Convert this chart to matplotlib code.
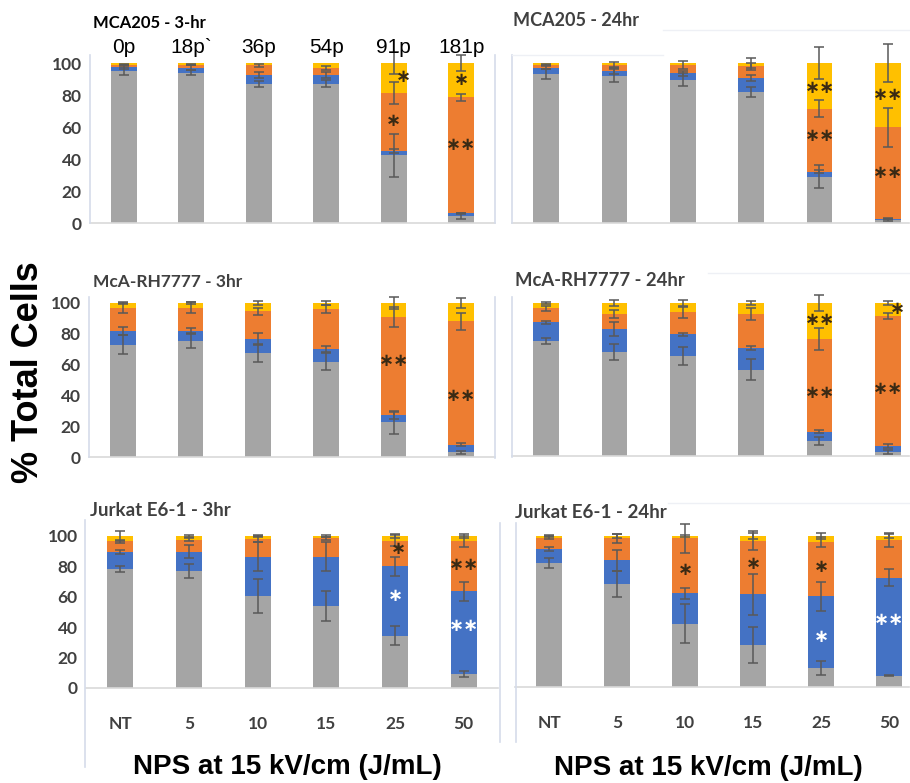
import matplotlib
matplotlib.use('agg')
import numpy as np
import matplotlib.pyplot as plt
from matplotlib.lines import Line2D

doses = ['NT', '5', '10', '15', '25', '50']
pulses = ['0p', '18p`', '36p', '54p', '91p', '181p']

# segment values per bar, stacked bottom -> top: gray, blue, orange, yellow
mca_3h_gray = [95, 94, 87, 87, 42.3, 4.5]
mca_3h_blue = [2.5, 3, 5.5, 5.5, 2.5, 1.5]
mca_3h_orange = [1.5, 2, 6, 4.5, 36.5, 72.5]
mca_3h_yellow = [1, 1, 1.5, 3, 18.7, 21.5]
mca_3h_err = [[2.5, 1.5, 2, 2.3, 13.6, 2], [1, 1.5, 1.8, 2, 1.2, 0.5],
              [0.5, 0.5, 1, 1.3, 6.7, 2], [0, 0, 0, 0, 7, 5]]
mca_3h_stars = [(4, 91, '∗', 'k', 0.15), (4, 64, '∗', 'k', 0), (5, 89.5, '∗', 'k', 0), (5, 49, '∗∗', 'k', 0)]

mca_24h_gray = [93, 92, 89.5, 82, 29, 1.7]
mca_24h_blue = [4, 3, 4, 8.5, 3, 1]
mca_24h_orange = [2, 4, 5.5, 7.5, 39.5, 57]
mca_24h_yellow = [1, 1, 1, 2, 28.5, 40.3]
mca_24h_err = [[3, 4, 4, 3.3, 7, 0.5], [1, 2, 1.5, 2, 1, 0.5],
               [0.5, 1.5, 2.5, 2.3, 5.3, 12], [0, 0, 0, 3, 10, 12]]
mca_24h_stars = [(4, 84.5, '∗∗', 'k', 0), (4, 54.6, '∗∗', 'k', 0), (5, 80, '∗∗', 'k', 0), (5, 31, '∗∗', 'k', 0)]

rh_3h_gray = [73, 75.5, 67.5, 62, 22.5, 3]
rh_3h_blue = [9, 6.5, 9, 8, 4.5, 5]
rh_3h_orange = [14.5, 15, 18, 26, 64, 80]
rh_3h_yellow = [3.5, 3, 5.5, 4, 9, 12]
rh_3h_err = [[6, 5, 6, 5.5, 7.5, 1], [2.5, 2, 4, 2, 2.5, 1],
             [3.3, 3.5, 2, 2.5, 6.5, 5.5], [0.5, 0.5, 1, 1, 4, 3]]
rh_3h_stars = [(4, 62.5, '∗∗', 'k', 0), (5, 39.4, '∗∗', 'k', 0)]

rh_24h_gray = [75, 68, 65.5, 56.5, 10, 2.5]
rh_24h_blue = [12.5, 15, 14, 14, 6, 4]
rh_24h_orange = [9, 10, 14.5, 22.5, 60.5, 85]
rh_24h_yellow = [3.5, 7, 6, 7, 23.5, 8.5]
rh_24h_err = [[2, 5.5, 6, 7, 2.5, 1.5], [1, 4.5, 1, 1.3, 0.8, 1.3],
              [1.5, 2.5, 3.5, 3.8, 7, 2], [0.5, 2, 2, 1.5, 5, 1]]
rh_24h_stars = [(4, 89, '∗∗', 'k', 0), (4, 41.3, '∗∗', 'k', 0), (5, 96.4, '∗', 'k', 0.14), (5, 43.8, '∗∗', 'k', 0)]

jk_3h_gray = [78.5, 77, 60.5, 54, 34.5, 9]
jk_3h_blue = [11, 12.5, 26, 32.5, 45.5, 54.5]
jk_3h_orange = [7, 8, 11.5, 12, 17, 33]
jk_3h_yellow = [3.5, 2.5, 2, 1.5, 3, 3.5]
jk_3h_err = [[2, 4.5, 11, 10, 6.5, 2], [1.5, 4.3, 9.5, 9.5, 6, 6.5],
             [1, 1, 2, 1, 3.5, 3.5], [3.3, 0.5, 0.5, 0.5, 1, 1]]
jk_3h_stars = [(4, 91.7, '∗', 'k', 0.05), (4, 60.5, '∗', 'w', 0), (5, 80.8, '∗∗', 'k', 0), (5, 41, '∗∗', 'w', 0)]

jk_24h_gray = [82, 68, 42, 28, 12.5, 7.5]
jk_24h_blue = [9.5, 16, 20, 33.5, 47.5, 65]
jk_24h_orange = [7.5, 14.5, 36.5, 35.5, 36, 25]
jk_24h_yellow = [1, 1.5, 1.5, 3, 4, 2.5]
jk_24h_err = [[3.3, 8.5, 12.7, 11.8, 4.5, 0.5], [1.5, 7, 3.5, 13.5, 9.5, 5.8],
              [1, 3, 9.5, 6.5, 3.5, 4.5], [0.5, 1, 0.5, 2, 2, 1]]
jk_24h_stars = [(2, 77.8, '∗', 'k', 0), (3, 81.3, '∗', 'k', 0), (4, 79.3, '∗', 'k', 0),
                (4, 33, '∗', 'w', 0), (5, 44.7, '∗∗', 'w', 0)]

colors = ['#a5a5a5', '#4472c4', '#ed7d31', '#ffc000']
star_dark = '#3a2a14'
frame_col = '#d5dcea'
tick_col = '#404040'

W, H = 910, 783
fig = plt.figure(figsize=(W / 100, H / 100), dpi=100)


def fx(x):
    return x / W


def fy(y):
    return 1 - y / H


def draw(box, segs, errs, stars, xmax, ylabels, xlabels):
    left, top, right, bottom = box
    ax = fig.add_axes([fx(left), fy(bottom), (right - left) / W, (bottom - top) / H])
    x = np.arange(6)
    base = np.zeros(6)
    tops = []
    for vals, col in zip(segs, colors):
        ax.bar(x, vals, 0.38, bottom=base, color=col, zorder=2)
        base = base + np.array(vals)
        tops.append(base.copy())
    for t, e in zip(tops, errs):
        e = np.array(e)
        m = e > 0
        ax.errorbar(x[m], t[m], yerr=e[m], fmt='none', ecolor='#595959',
                    elinewidth=1.1, capsize=3.5, capthick=1.1, zorder=3, clip_on=False)
    for i, yv, s, c, dx in stars:
        ax.text(i + dx, yv, s, ha='center', va='center', fontsize=13, fontweight='bold',
                color=star_dark if c == 'k' else 'white', zorder=4)
    ax.set_xlim(-0.5, xmax)
    ax.set_ylim(0, 100)
    for s in ['top', 'right', 'left']:
        ax.spines[s].set_visible(False)
    ax.spines['bottom'].set_color('#d9d9d9')
    ax.spines['bottom'].set_linewidth(1.2)
    ax.tick_params(length=0)
    if ylabels:
        ax.set_yticks(range(0, 101, 20))
        ax.tick_params(axis='y', pad=6, labelsize=12.5, labelcolor=tick_col)
        for lab in ax.get_yticklabels():
            lab.set_fontfamily('Lato')
            lab.set_fontweight('bold')
    else:
        ax.set_yticks([])
    if xlabels:
        ax.set_xticks(x)
        ax.set_xticklabels(doses, fontsize=12.5, color=tick_col, family='Lato', fontweight='bold')
        ax.tick_params(axis='x', pad=20)
    else:
        ax.set_xticks([])
    return ax


ax_tl = draw((90, 63, 495, 223), [mca_3h_gray, mca_3h_blue, mca_3h_orange, mca_3h_yellow],
             mca_3h_err, mca_3h_stars, 5.5, True, False)
ax_tr = draw((512, 63, 909, 223), [mca_24h_gray, mca_24h_blue, mca_24h_orange, mca_24h_yellow],
             mca_24h_err, mca_24h_stars, 5.31, False, False)
ax_ml = draw((89, 303, 495, 457), [rh_3h_gray, rh_3h_blue, rh_3h_orange, rh_3h_yellow],
             rh_3h_err, rh_3h_stars, 5.5, True, False)
ax_mr = draw((512, 303, 909, 456), [rh_24h_gray, rh_24h_blue, rh_24h_orange, rh_24h_yellow],
             rh_24h_err, rh_24h_stars, 5.31, False, False)
ax_bl = draw((86, 536, 498, 688), [jk_3h_gray, jk_3h_blue, jk_3h_orange, jk_3h_yellow],
             jk_3h_err, jk_3h_stars, 5.5, True, True)
ax_br = draw((515, 536, 909, 687), [jk_24h_gray, jk_24h_blue, jk_24h_orange, jk_24h_yellow],
             jk_24h_err, jk_24h_stars, 5.29, False, True)

# pulse counts above the first panel
for i, p in enumerate(pulses):
    ax_tl.text(i, 109.5, p, ha='center', va='center', fontsize=15,
               family='Liberation Sans', color='black', clip_on=False)

# chart area borders
frame = [((90, 55), (90, 223)), ((495, 55), (495, 223)), ((512, 55), (512, 223)),
         ((89, 297), (89, 457)), ((495, 297), (495, 458)), ((512, 297), (512, 457)),
         ((85, 520), (85, 767)), ((500, 523), (500, 742)), ((516, 523), (516, 742))]
for (x0, y0), (x1, y1) in frame:
    fig.add_artist(Line2D([fx(x0), fx(x1)], [fy(y0), fy(y1)], color=frame_col, lw=1.2))
faint = [((512, 55), (663, 55)), ((663, 30), (910, 30)), ((708, 273), (910, 273)),
         ((668, 503), (910, 503))]
for (x0, y0), (x1, y1) in faint:
    fig.add_artist(Line2D([fx(x0), fx(x1)], [fy(y0), fy(y1)], color='#eef0f5', lw=1))

# panel titles
titles = [(93, 23, 'MCA205 - 3-hr', 12, 'black'),
          (513, 20, 'MCA205 - 24hr', 13, tick_col),
          (93, 282, 'McA-RH7777 - 3hr', 12.5, tick_col),
          (515, 281, 'McA-RH7777 - 24hr', 13.3, tick_col),
          (90, 511, 'Jurkat E6-1 - 3hr', 13.5, tick_col),
          (515, 513, 'Jurkat E6-1 - 24hr', 13.5, tick_col)]
for tx, ty, s, size, col in titles:
    fig.text(fx(tx), fy(ty), s, fontsize=size, fontweight='bold', family='Lato',
             color=col, ha='left', va='center')

fig.text(fx(29), fy(372), '% Total Cells', fontsize=26, fontweight='bold', family='Liberation Sans',
         rotation=90, ha='center', va='center')
fig.text(fx(287), fy(767), 'NPS at 15 kV/cm (J/mL)', fontsize=20, fontweight='bold',
         family='Liberation Sans', ha='center', va='center')
fig.text(fx(708), fy(768), 'NPS at 15 kV/cm (J/mL)', fontsize=20, fontweight='bold',
         family='Liberation Sans', ha='center', va='center')

fig.savefig('out.png', dpi=100)
